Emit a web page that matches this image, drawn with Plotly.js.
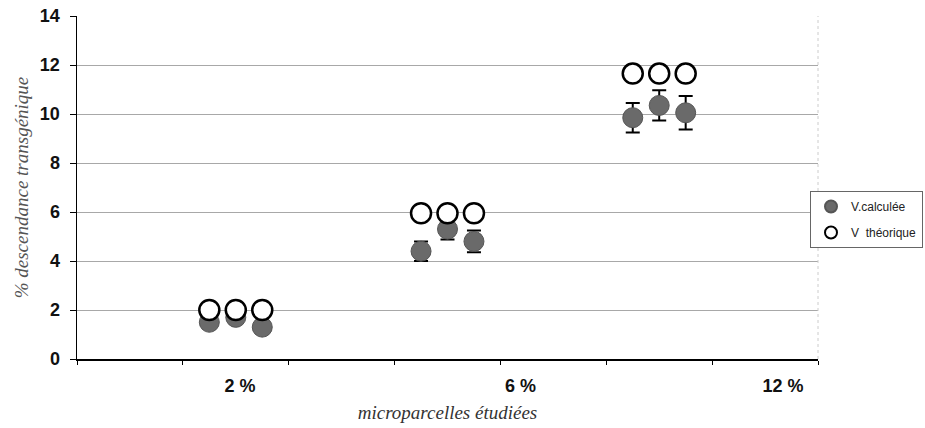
<!DOCTYPE html>
<html>
<head>
<meta charset="utf-8">
<script src="https://cdn.plot.ly/plotly-3.0.1.min.js"></script>
<style>html,body{margin:0;padding:0;background:#fff;}#chart{width:925px;height:428px;}</style>
</head>
<body>
<div id="chart"></div>
<script>
// Data
const categoryLabels = ["2 %", "6 %", "12 %"];
const categoryLabelPos = [1.54, 4.19, 6.67];
const pointX = [1.25, 1.5, 1.75, 3.25, 3.5, 3.75, 5.25, 5.5, 5.75];
const vCalculee = [1.5, 1.7, 1.3, 4.4, 5.3, 4.8, 9.85, 10.35, 10.05];
const vCalculeeErr = [0.2, 0.2, 0.2, 0.4, 0.42, 0.44, 0.6, 0.62, 0.68];
const vTheorique = [2.0, 2.0, 2.0, 5.95, 5.95, 5.95, 11.65, 11.65, 11.65];
const yTicks = [0, 2, 4, 6, 8, 10, 12, 14];

const traces = [
  {
    type: 'scatter', mode: 'markers', name: 'V.calculée', legendgroup: 'a',
    x: pointX, y: vCalculee,
    error_y: {type: 'data', array: vCalculeeErr, visible: true, color: '#000', thickness: 2, width: 7},
    marker: {size: 20, color: '#6a6a6a', line: {color: '#555', width: 1}}
  },
  {
    type: 'scatter', mode: 'markers', name: 'V  théorique', legendgroup: 'b',
    x: pointX, y: vTheorique,
    marker: {size: 20, color: '#fff', line: {color: '#000', width: 2.5}}
  }
];

const layout = {
  width: 925, height: 428,
  margin: {l: 77, r: 107, t: 16, b: 69, autoexpand: false},
  paper_bgcolor: '#fff', plot_bgcolor: '#fff',
  showlegend: true,
  legend: {
    xref: 'container', yref: 'container',
    x: 810 / 925, xanchor: 'left', y: 1 - 191 / 428, yanchor: 'top',
    bordercolor: '#666', borderwidth: 1, bgcolor: '#fff',
    font: {family: 'Liberation Sans, Arial, sans-serif', size: 12, color: '#222'},
    itemsizing: 'constant', tracegroupgap: 7, itemwidth: 30
  },
  xaxis: {
    range: [0, 7], tickmode: 'array', tickvals: categoryLabelPos, ticktext: categoryLabels,
    ticks: '', showgrid: false, zeroline: false,
    showline: true, linecolor: '#000', linewidth: 1.5,
    ticklabelstandoff: 10,
    minor: {tickmode: 'linear', tick0: 0, dtick: 1, ticks: 'outside', ticklen: 4, tickcolor: '#000', tickwidth: 1, showgrid: false},
    tickfont: {family: 'Liberation Sans, Arial, sans-serif', size: 18, color: '#111', weight: 'bold'},
    title: {text: 'microparcelles étudiées', standoff: 10,
      font: {family: 'Liberation Serif, Times New Roman, serif', size: 19, color: '#333', style: 'italic'}}
  },
  yaxis: {
    range: [0, 14], tickmode: 'array', tickvals: yTicks,
    ticks: 'outside', ticklen: 6, tickcolor: '#000',
    showgrid: true, gridcolor: '#a8a8a8', gridwidth: 1, zeroline: false,
    showline: true, linecolor: '#000', linewidth: 1.5,
    ticklabelstandoff: 6,
    tickfont: {family: 'Liberation Sans, Arial, sans-serif', size: 18, color: '#111', weight: 'bold'},
    title: {text: '% descendance transgénique', standoff: 6,
      font: {family: 'Liberation Serif, Times New Roman, serif', size: 19, color: '#555', style: 'italic'}}
  },
  shapes: [
    {type: 'line', xref: 'paper', yref: 'paper', x0: 1, x1: 1, y0: 0, y1: 1, line: {color: '#ccc', width: 1, dash: 'dot'}}
  ]
};

Plotly.newPlot('chart', traces, layout, {displayModeBar: false, staticPlot: true});
</script>
</body>
</html>
